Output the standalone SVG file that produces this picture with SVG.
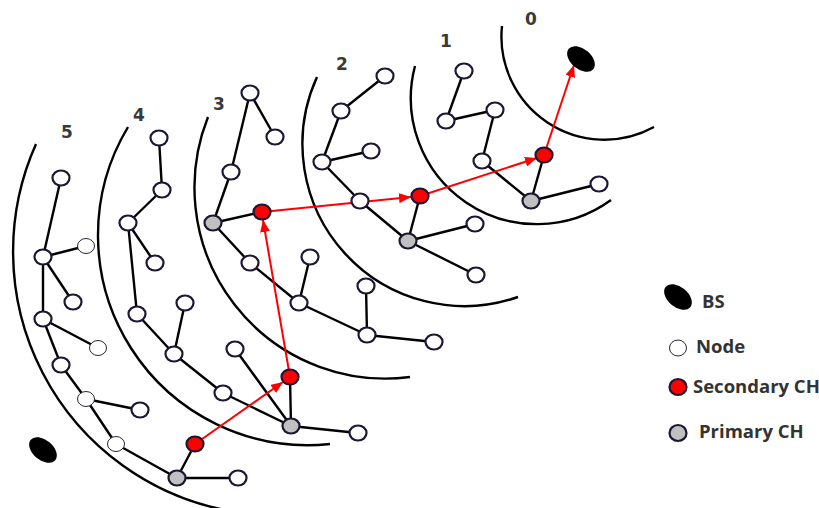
<svg xmlns="http://www.w3.org/2000/svg" width="819" height="508" viewBox="0 0 819 508">
<style>
.arc{fill:none;stroke:#000;stroke-width:2.4}
.e{stroke:#000;stroke-width:2.4;fill:none}
.r{stroke:#ff0000;stroke-width:2;fill:none;marker-end:url(#ah)}
.n{fill:#fff;stroke:#1e1632;stroke-width:2.2}
.t{fill:#fff;stroke:#2a2438;stroke-width:1}
.s{fill:#ff0000;stroke:#1e1632;stroke-width:2.2}
.p{fill:#c0c0c0;stroke:#1e1632;stroke-width:2.2}
.bs{fill:#000}
.lab{font-family:"DejaVu Sans",sans-serif;font-weight:bold;font-size:17px;fill:#3a3a3a}
.leg{font-family:"Open Sans","Liberation Sans",sans-serif;font-weight:bold;font-size:18.5px;fill:#333}
</style>
<defs>
<marker id="ah" viewBox="0 0 12 10" refX="12" refY="5" markerWidth="12" markerHeight="10" markerUnits="userSpaceOnUse" orient="auto">
<path d="M0,0 L12,5 L0,10 Z" fill="#ff0000"/>
</marker>
</defs>
<rect width="819" height="508" fill="#fff"/>
<g id="arcs">
<path class="arc" d="M502,26 A103,103 0 0 0 654,127"/>
<path class="arc" d="M415,66 A126,126 0 0 0 611,200"/>
<path class="arc" d="M317,77 A162,162 0 0 0 518,297"/>
<path class="arc" d="M208,117 A191,191 0 0 0 410,377"/>
<path class="arc" d="M128,127 A210,210 0 0 0 330,444"/>
<path class="arc" d="M36,144 A263.6,263.6 0 0 0 225,510"/>
</g>
<g id="labels">
<text class="lab" x="531" y="25" text-anchor="middle">0</text>
<text class="lab" x="446" y="47" text-anchor="middle">1</text>
<text class="lab" x="342" y="70" text-anchor="middle">2</text>
<text class="lab" x="219" y="110" text-anchor="middle">3</text>
<text class="lab" x="139" y="121" text-anchor="middle">4</text>
<text class="lab" x="67" y="138" text-anchor="middle">5</text>
</g>
<g id="connectors">
<line class="e" x1="464" y1="71" x2="446" y2="121"/>
<line class="e" x1="446" y1="121" x2="495" y2="110"/>
<line class="e" x1="495" y1="110" x2="482" y2="161"/>
<line class="e" x1="482" y1="161" x2="531" y2="201"/>
<line class="e" x1="531" y1="201" x2="544" y2="155"/>
<line class="e" x1="531" y1="201" x2="599" y2="184"/>
<line class="e" x1="385" y1="76" x2="341" y2="111"/>
<line class="e" x1="341" y1="111" x2="322" y2="162"/>
<line class="e" x1="322" y1="162" x2="371" y2="151"/>
<line class="e" x1="322" y1="162" x2="360" y2="201"/>
<line class="e" x1="360" y1="201" x2="408" y2="241"/>
<line class="e" x1="408" y1="241" x2="420" y2="196"/>
<line class="e" x1="408" y1="241" x2="475" y2="224"/>
<line class="e" x1="408" y1="241" x2="476" y2="275"/>
<line class="e" x1="250" y1="93" x2="275" y2="137"/>
<line class="e" x1="250" y1="93" x2="231" y2="172"/>
<line class="e" x1="231" y1="172" x2="213" y2="223"/>
<line class="e" x1="213" y1="223" x2="262" y2="212"/>
<line class="e" x1="213" y1="223" x2="250" y2="263"/>
<line class="e" x1="250" y1="263" x2="299" y2="303"/>
<line class="e" x1="299" y1="303" x2="310" y2="257"/>
<line class="e" x1="299" y1="303" x2="367" y2="335"/>
<line class="e" x1="367" y1="335" x2="366" y2="286"/>
<line class="e" x1="367" y1="335" x2="434" y2="342"/>
<line class="e" x1="159" y1="138" x2="162" y2="190"/>
<line class="e" x1="162" y1="190" x2="128" y2="223"/>
<line class="e" x1="128" y1="223" x2="155" y2="263"/>
<line class="e" x1="128" y1="223" x2="137" y2="314"/>
<line class="e" x1="137" y1="314" x2="174" y2="354"/>
<line class="e" x1="174" y1="354" x2="185" y2="303"/>
<line class="e" x1="174" y1="354" x2="223" y2="393"/>
<line class="e" x1="223" y1="393" x2="291" y2="426"/>
<line class="e" x1="235" y1="349" x2="291" y2="426"/>
<line class="e" x1="291" y1="426" x2="290" y2="377"/>
<line class="e" x1="291" y1="426" x2="358" y2="433"/>
<line class="e" x1="61" y1="178" x2="43" y2="257"/>
<line class="e" x1="43" y1="257" x2="86" y2="246"/>
<line class="e" x1="43" y1="257" x2="73" y2="302"/>
<line class="e" x1="43" y1="257" x2="43" y2="319"/>
<line class="e" x1="43" y1="319" x2="98" y2="348"/>
<line class="e" x1="43" y1="319" x2="61" y2="365"/>
<line class="e" x1="61" y1="365" x2="86" y2="399"/>
<line class="e" x1="86" y1="399" x2="140" y2="410"/>
<line class="e" x1="86" y1="399" x2="116" y2="444"/>
<line class="e" x1="116" y1="444" x2="177" y2="478"/>
<line class="e" x1="177" y1="478" x2="195" y2="444"/>
<line class="e" x1="177" y1="478" x2="238" y2="478"/>
<line class="r" x1="195" y1="444" x2="283" y2="382"/>
<line class="r" x1="290" y1="377" x2="263" y2="220"/>
<line class="r" x1="262" y1="212" x2="411" y2="197"/>
<line class="r" x1="420" y1="196" x2="537" y2="158"/>
<line class="r" x1="544" y1="155" x2="574" y2="65"/>
</g>
<g id="bs"><ellipse class="bs" cx="581" cy="59" rx="16" ry="10" transform="rotate(40 581 59)"/></g>
<g id="bs2"><ellipse class="bs" cx="43" cy="450" rx="16" ry="10" transform="rotate(40 43 450)"/></g>
<g id="z1">
<g id="n1a"><ellipse class="n" cx="464" cy="71" rx="8.5" ry="7.5"/></g>
<g id="n1b"><ellipse class="n" cx="446" cy="121" rx="8.5" ry="7.5"/></g>
<g id="n1c"><ellipse class="n" cx="495" cy="110" rx="8.5" ry="7.5"/></g>
<g id="n1d"><ellipse class="n" cx="482" cy="161" rx="8.5" ry="7.5"/></g>
<g id="n1s"><ellipse class="s" cx="544" cy="155" rx="8.5" ry="7.5"/></g>
<g id="n1p"><ellipse class="p" cx="531" cy="201" rx="8.5" ry="7.5"/></g>
<g id="n1e"><ellipse class="n" cx="599" cy="184" rx="8.5" ry="7.5"/></g>
</g>
<g id="z2">
<g id="n2a"><ellipse class="n" cx="385" cy="76" rx="8.5" ry="7.5"/></g>
<g id="n2b"><ellipse class="n" cx="341" cy="111" rx="8.5" ry="7.5"/></g>
<g id="n2c"><ellipse class="n" cx="322" cy="162" rx="8.5" ry="7.5"/></g>
<g id="n2d"><ellipse class="n" cx="371" cy="151" rx="8.5" ry="7.5"/></g>
<g id="n2e"><ellipse class="n" cx="360" cy="201" rx="8.5" ry="7.5"/></g>
<g id="n2s"><ellipse class="s" cx="420" cy="196" rx="8.5" ry="7.5"/></g>
<g id="n2p"><ellipse class="p" cx="408" cy="241" rx="8.5" ry="7.5"/></g>
<g id="n2f"><ellipse class="n" cx="475" cy="224" rx="8.5" ry="7.5"/></g>
<g id="n2g"><ellipse class="n" cx="476" cy="275" rx="8.5" ry="7.5"/></g>
</g>
<g id="z3">
<g id="n3a"><ellipse class="n" cx="250" cy="93" rx="8.5" ry="7.5"/></g>
<g id="n3b"><ellipse class="n" cx="275" cy="137" rx="8.5" ry="7.5"/></g>
<g id="n3c"><ellipse class="n" cx="231" cy="172" rx="8.5" ry="7.5"/></g>
<g id="n3p"><ellipse class="p" cx="213" cy="223" rx="8.5" ry="7.5"/></g>
<g id="n3s"><ellipse class="s" cx="262" cy="212" rx="8.5" ry="7.5"/></g>
<g id="n3d"><ellipse class="n" cx="250" cy="263" rx="8.5" ry="7.5"/></g>
<g id="n3e"><ellipse class="n" cx="310" cy="257" rx="8.5" ry="7.5"/></g>
<g id="n3f"><ellipse class="n" cx="299" cy="303" rx="8.5" ry="7.5"/></g>
<g id="n3g"><ellipse class="n" cx="366" cy="286" rx="8.5" ry="7.5"/></g>
<g id="n3h"><ellipse class="n" cx="367" cy="335" rx="8.5" ry="7.5"/></g>
<g id="n3i"><ellipse class="n" cx="434" cy="342" rx="8.5" ry="7.5"/></g>
</g>
<g id="z4">
<g id="n4a"><ellipse class="n" cx="159" cy="138" rx="8.5" ry="7.5"/></g>
<g id="n4b"><ellipse class="n" cx="162" cy="190" rx="8.5" ry="7.5"/></g>
<g id="n4c"><ellipse class="n" cx="128" cy="223" rx="8.5" ry="7.5"/></g>
<g id="n4d"><ellipse class="n" cx="155" cy="263" rx="8.5" ry="7.5"/></g>
<g id="n4e"><ellipse class="n" cx="137" cy="314" rx="8.5" ry="7.5"/></g>
<g id="n4f"><ellipse class="n" cx="185" cy="303" rx="8.5" ry="7.5"/></g>
<g id="n4g"><ellipse class="n" cx="174" cy="354" rx="8.5" ry="7.5"/></g>
<g id="n4h"><ellipse class="n" cx="235" cy="349" rx="8.5" ry="7.5"/></g>
<g id="n4i"><ellipse class="n" cx="223" cy="393" rx="8.5" ry="7.5"/></g>
<g id="n4s"><ellipse class="s" cx="290" cy="377" rx="8.5" ry="7.5"/></g>
<g id="n4p"><ellipse class="p" cx="291" cy="426" rx="8.5" ry="7.5"/></g>
<g id="n4j"><ellipse class="n" cx="358" cy="433" rx="8.5" ry="7.5"/></g>
</g>
<g id="z5">
<g id="n5a"><ellipse class="n" cx="61" cy="178" rx="8.5" ry="7.5"/></g>
<g id="n5b"><ellipse class="n" cx="43" cy="257" rx="8.5" ry="7.5"/></g>
<g id="n5c"><ellipse class="t" cx="86" cy="246" rx="8.5" ry="7.5"/></g>
<g id="n5d"><ellipse class="n" cx="73" cy="302" rx="8.5" ry="7.5"/></g>
<g id="n5e"><ellipse class="n" cx="43" cy="319" rx="8.5" ry="7.5"/></g>
<g id="n5f"><ellipse class="t" cx="98" cy="348" rx="8.5" ry="7.5"/></g>
<g id="n5g"><ellipse class="n" cx="61" cy="365" rx="8.5" ry="7.5"/></g>
<g id="n5h"><ellipse class="t" cx="86" cy="399" rx="8.5" ry="7.5"/></g>
<g id="n5i"><ellipse class="n" cx="140" cy="410" rx="8.5" ry="7.5"/></g>
<g id="n5j"><ellipse class="t" cx="116" cy="444" rx="8.5" ry="7.5"/></g>
<g id="n5s"><ellipse class="s" cx="195" cy="444" rx="8.5" ry="7.5"/></g>
<g id="n5p"><ellipse class="p" cx="177" cy="478" rx="8.5" ry="7.5"/></g>
<g id="n5k"><ellipse class="n" cx="238" cy="478" rx="8.5" ry="7.5"/></g>
</g>
<g id="legend">
<ellipse class="bs" cx="678" cy="297" rx="16" ry="10" transform="rotate(40 678 297)"/>
<text class="leg" x="702" y="308">BS</text>
<ellipse class="t" cx="678" cy="348" rx="8.5" ry="8"/>
<text class="leg" x="696" y="353">Node</text>
<ellipse class="s" cx="678" cy="387" rx="8.5" ry="8"/>
<text class="leg" x="693" y="393">Secondary CH</text>
<ellipse class="p" cx="678" cy="433" rx="8.5" ry="8"/>
<text class="leg" x="699" y="438">Primary CH</text>
</g>
</svg>
